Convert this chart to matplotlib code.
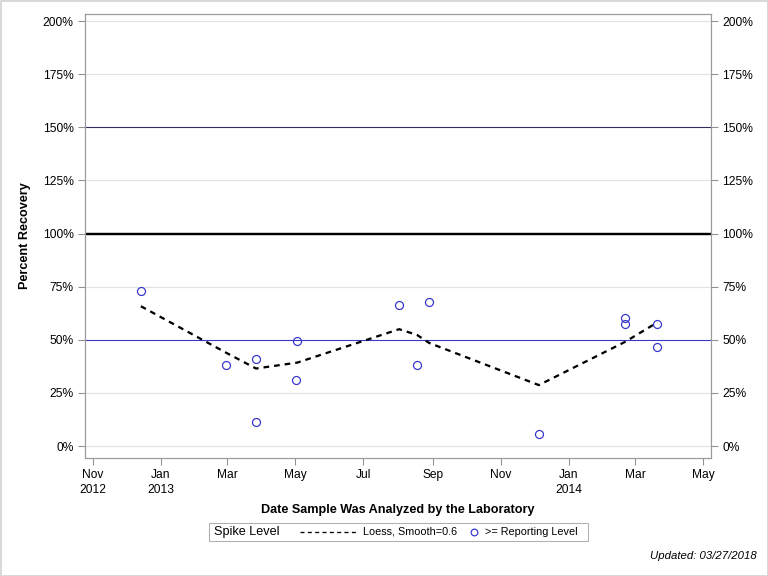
import matplotlib
matplotlib.use('Agg')
import matplotlib.pyplot as plt
import matplotlib.dates as mdates
from matplotlib.lines import Line2D
from matplotlib.patches import Rectangle
import numpy as np
from datetime import date

plt.rcParams['font.family'] = ['Liberation Sans', 'DejaVu Sans']

# data
sample_dates = ['2012-12-14', '2013-02-28', '2013-03-27', '2013-03-27', '2013-05-03',
                '2013-05-02', '2013-08-02', '2013-08-29', '2013-08-18', '2013-12-05',
                '2014-02-20', '2014-02-20', '2014-03-21', '2014-03-21']
recovery = [72.9, 38.0, 40.8, 11.2, 49.3, 30.9, 66.2, 67.6, 38.0, 5.5, 60.1, 57.3, 57.3, 46.4]

loess_dates = ['2012-12-14', '2013-02-28', '2013-03-27', '2013-05-03', '2013-08-02',
               '2013-08-18', '2013-08-29', '2013-12-05', '2014-02-20', '2014-03-21']
loess_vals = [65.8, 44.0, 36.5, 39.3, 55.0, 52.3, 48.5, 28.7, 49.0, 58.2]

tick_dates = ['2012-11-01', '2013-01-01', '2013-03-01', '2013-05-01', '2013-07-01',
              '2013-09-01', '2013-11-01', '2014-01-01', '2014-03-01', '2014-05-01']
tick_labels = ['Nov\n2012', 'Jan\n2013', 'Mar', 'May', 'Jul', 'Sep', 'Nov',
               'Jan\n2014', 'Mar', 'May']
y_ticks = [0, 25, 50, 75, 100, 125, 150, 175, 200]


def to_num(ds):
    return mdates.date2num([np.datetime64(d) for d in ds])


fig = plt.figure(figsize=(8, 6), dpi=96)
ax = fig.add_axes([85 / 768, 1 - 458 / 576, (711 - 85) / 768, (458 - 14) / 576])

ax.set_xlim(mdates.date2num(date(2012, 10, 25)), mdates.date2num(date(2014, 5, 8)))
ax.set_ylim(-5.6, 203.3)

for v in y_ticks:
    ax.axhline(v, color='#e3e3e3', lw=0.9, zorder=0)
ax.axhline(100, color='black', lw=1.8, zorder=1)
ax.axhline(150, color='#303060', lw=0.8, zorder=1)
ax.axhline(50, color='#3838c8', lw=0.8, zorder=1)

ax.plot(to_num(loess_dates), loess_vals, color='black', lw=1.7,
        linestyle=(0, (2.5, 2.2)), zorder=3)
ax.plot(to_num(sample_dates), recovery, linestyle='none', marker='o', ms=6,
        mfc='none', mec='#3333cc', mew=0.9, zorder=4)

ax.set_xticks(to_num(tick_dates))
ax.set_xticklabels(tick_labels, linespacing=1.35)
ax.set_yticks(y_ticks)
ax.set_yticklabels([f'{v}%' for v in y_ticks])
ax.tick_params(axis='both', colors='#909090', labelcolor='black', labelsize=9,
               length=5, width=0.8)
ax.tick_params(axis='y', right=True, labelright=True)
for s in ax.spines.values():
    s.set_color('#9a9a9a')
    s.set_linewidth(0.9)

ax.set_xlabel('Date Sample Was Analyzed by the Laboratory', fontsize=9.5,
              fontweight='bold', labelpad=5.5)
ax.set_ylabel('Percent Recovery', fontsize=9.5, fontweight='bold', labelpad=9)

# legend box
ly = 1 - 532 / 576
fig.patches.append(Rectangle((209 / 768, 1 - 541 / 576), 379 / 768, 18 / 576,
                             transform=fig.transFigure, fill=False,
                             edgecolor='#b0b0b0', lw=0.8))
fig.text(214 / 768, ly, 'Spike Level', fontsize=9.5, va='center')
fig.lines.append(Line2D([300 / 768, 357 / 768], [ly] * 2,
                        transform=fig.transFigure, color='black', lw=1,
                        linestyle=(0, (3, 2.5))))
fig.text(363 / 768, ly, 'Loess, Smooth=0.6', fontsize=8.2, va='center')
fig.lines.append(Line2D([474 / 768], [ly], transform=fig.transFigure,
                        marker='o', ms=5, mfc='none', mec='#3333cc', mew=0.9))
fig.text(485 / 768, ly, '>= Reporting Level', fontsize=8.2, va='center')

fig.text(757 / 768, 1 - 556 / 576, 'Updated: 03/27/2018', fontsize=8.5,
         style='italic', ha='right', va='center')

# outer border
fig.patches.append(Rectangle((0.5 / 768, 0.5 / 576), 767 / 768, 575 / 576,
                             transform=fig.transFigure, fill=False,
                             edgecolor='#d0d0d0', lw=1.2))

fig.savefig('out.png', dpi=96)
